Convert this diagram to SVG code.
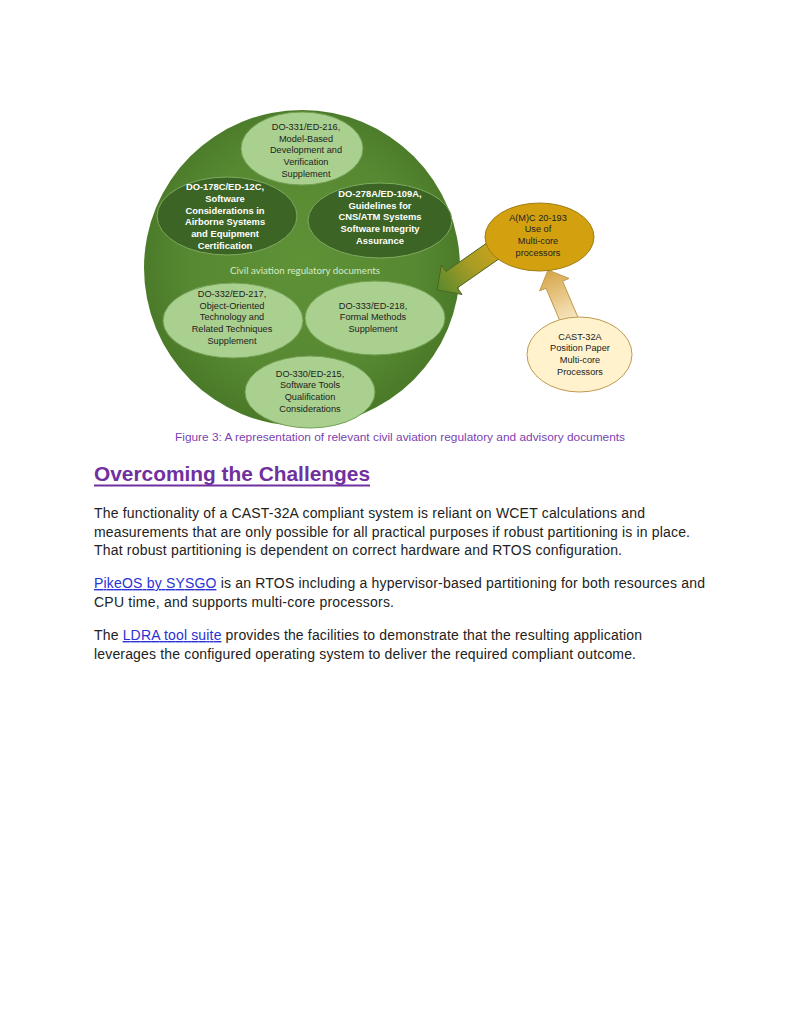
<svg xmlns="http://www.w3.org/2000/svg" width="800" height="1035" viewBox="0 0 800 1035">
<defs>
<radialGradient id="gBig" cx="302" cy="262" r="160" gradientUnits="userSpaceOnUse">
<stop offset="0" stop-color="#5f9237"/>
<stop offset="0.7" stop-color="#578832"/>
<stop offset="1" stop-color="#4b7b29"/>
</radialGradient>
<linearGradient id="gA1" x1="502" y1="244" x2="440" y2="288" gradientUnits="userSpaceOnUse">
<stop offset="0" stop-color="#d2a41a"/>
<stop offset="0.5" stop-color="#a89c25"/>
<stop offset="1" stop-color="#5e8a2d"/>
</linearGradient>
<linearGradient id="gA2" x1="572" y1="327" x2="548" y2="270" gradientUnits="userSpaceOnUse">
<stop offset="0" stop-color="#fcefd0"/>
<stop offset="1" stop-color="#d5a446"/>
</linearGradient>
</defs>
<style>
.light{fill:#a9d08e;stroke:#74a053;stroke-width:1}
.dark{fill:#3b6425;stroke:#7fab5f;stroke-width:1}
.t{font-family:"Liberation Sans",Arial,sans-serif;font-size:9.2px;fill:#222;text-anchor:middle}
.tb{font-family:"Liberation Sans",Arial,sans-serif;font-size:9.4px;font-weight:bold;fill:#ffffff;text-anchor:middle}
.body{font-family:"Liberation Sans",Arial,sans-serif;font-size:14px;fill:#222}
.link{fill:#2a32d4;text-decoration:underline}
</style>
<rect width="800" height="1035" fill="#ffffff"/>

<g id="regulatory-circle">
<circle cx="302" cy="268" r="158" fill="url(#gBig)"/>
<text x="305" y="273.5" font-family="Lato,'Open Sans',sans-serif" font-size="10" fill="#d6ebc6" text-anchor="middle" textLength="150" lengthAdjust="spacingAndGlyphs">Civil aviation regulatory documents</text>
</g>

<g id="connectors">
<polygon points="437,290 441.4,265 446,271.5 496.8,236 508.2,252.4 457.4,287.9 462,294.4" fill="url(#gA1)" stroke="#4a6522" stroke-width="1"/>
<polygon points="548,270 569,278.4 562.6,281.2 580.6,323.5 564,330.5 546,288.2 539.6,291" fill="url(#gA2)" stroke="#c0984e" stroke-width="1"/>
</g>

<g id="do331">
<ellipse class="light" cx="302" cy="148.5" rx="61" ry="36.5"/>
<text class="t" x="306" y="130">DO-331/ED-216,</text>
<text class="t" x="306" y="141.7">Model-Based</text>
<text class="t" x="306" y="153.4">Development and</text>
<text class="t" x="306" y="165.1">Verification</text>
<text class="t" x="306" y="176.8">Supplement</text>
</g>

<g id="do178c">
<ellipse class="dark" cx="227" cy="216" rx="70" ry="39"/>
<text class="tb" x="225" y="190">DO-178C/ED-12C,</text>
<text class="tb" x="225" y="201.8">Software</text>
<text class="tb" x="225" y="213.6">Considerations in</text>
<text class="tb" x="225" y="225.4">Airborne Systems</text>
<text class="tb" x="225" y="237.2">and Equipment</text>
<text class="tb" x="225" y="249">Certification</text>
</g>

<g id="do278a">
<ellipse class="dark" cx="380" cy="220.5" rx="72" ry="37.5"/>
<text class="tb" x="380" y="196.8">DO-278A/ED-109A,</text>
<text class="tb" x="380" y="208.6">Guidelines for</text>
<text class="tb" x="380" y="220.4">CNS/ATM Systems</text>
<text class="tb" x="380" y="232.2">Software Integrity</text>
<text class="tb" x="380" y="244">Assurance</text>
</g>

<g id="do332">
<ellipse class="light" cx="233" cy="320.5" rx="70" ry="37.5"/>
<text class="t" x="232" y="296.8">DO-332/ED-217,</text>
<text class="t" x="232" y="308.6">Object-Oriented</text>
<text class="t" x="232" y="320.4">Technology and</text>
<text class="t" x="232" y="332.2">Related Techniques</text>
<text class="t" x="232" y="344">Supplement</text>
</g>

<g id="do333">
<ellipse class="light" cx="375" cy="318" rx="70" ry="37"/>
<text class="t" x="373" y="308.6">DO-333/ED-218,</text>
<text class="t" x="373" y="320.4">Formal Methods</text>
<text class="t" x="373" y="332.2">Supplement</text>
</g>

<g id="do330">
<ellipse class="light" cx="310" cy="392" rx="65" ry="36"/>
<text class="t" x="310" y="376.6">DO-330/ED-215,</text>
<text class="t" x="310" y="388.4">Software Tools</text>
<text class="t" x="310" y="400.2">Qualification</text>
<text class="t" x="310" y="412">Considerations</text>
</g>

<g id="amc20-193">
<ellipse cx="539.5" cy="237" rx="54.5" ry="34" fill="#d3a110" stroke="#a07d14" stroke-width="1"/>
<text class="t" x="538" y="220.6">A(M)C 20-193</text>
<text class="t" x="538" y="232.4">Use of</text>
<text class="t" x="538" y="244.2">Multi-core</text>
<text class="t" x="538" y="256">processors</text>
</g>

<g id="cast32a">
<ellipse cx="579.5" cy="354.5" rx="52.5" ry="37.5" fill="#fff2cc" stroke="#bf9a52" stroke-width="1"/>
<text class="t" x="580" y="339.6">CAST-32A</text>
<text class="t" x="580" y="351.4">Position Paper</text>
<text class="t" x="580" y="363.2">Multi-core</text>
<text class="t" x="580" y="375">Processors</text>
</g>

<g id="page-text">
<text x="400" y="441" font-family="'Liberation Sans',Arial,sans-serif" font-size="10.5" fill="#7a3fb0" text-anchor="middle" textLength="450" lengthAdjust="spacingAndGlyphs">Figure 3: A representation of relevant civil aviation regulatory and advisory documents</text>
<text x="94" y="481" font-family="'Liberation Sans',Arial,sans-serif" font-size="20" font-weight="bold" fill="#7030a0" textLength="276" lengthAdjust="spacingAndGlyphs">Overcoming the Challenges</text>
<line x1="94" y1="485.5" x2="370" y2="485.5" stroke="#7030a0" stroke-width="1.8"/>
<text class="body" x="94" y="518" textLength="551">The functionality of a CAST-32A compliant system is reliant on WCET calculations and</text>
<text class="body" x="94" y="537" textLength="596">measurements that are only possible for all practical purposes if robust partitioning is in place.</text>
<text class="body" x="94" y="555" textLength="528">That robust partitioning is dependent on correct hardware and RTOS configuration.</text>
<text class="body" x="94" y="588" textLength="611"><tspan class="link">PikeOS by SYSGO</tspan> is an RTOS including a hypervisor-based partitioning for both resources and</text>
<text class="body" x="94" y="607" textLength="300">CPU time, and supports multi-core processors.</text>
<text class="body" x="94" y="640" textLength="548">The <tspan class="link">LDRA tool suite</tspan> provides the facilities to demonstrate that the resulting application</text>
<text class="body" x="94" y="659" textLength="542">leverages the configured operating system to deliver the required compliant outcome.</text>
</g>
</svg>
